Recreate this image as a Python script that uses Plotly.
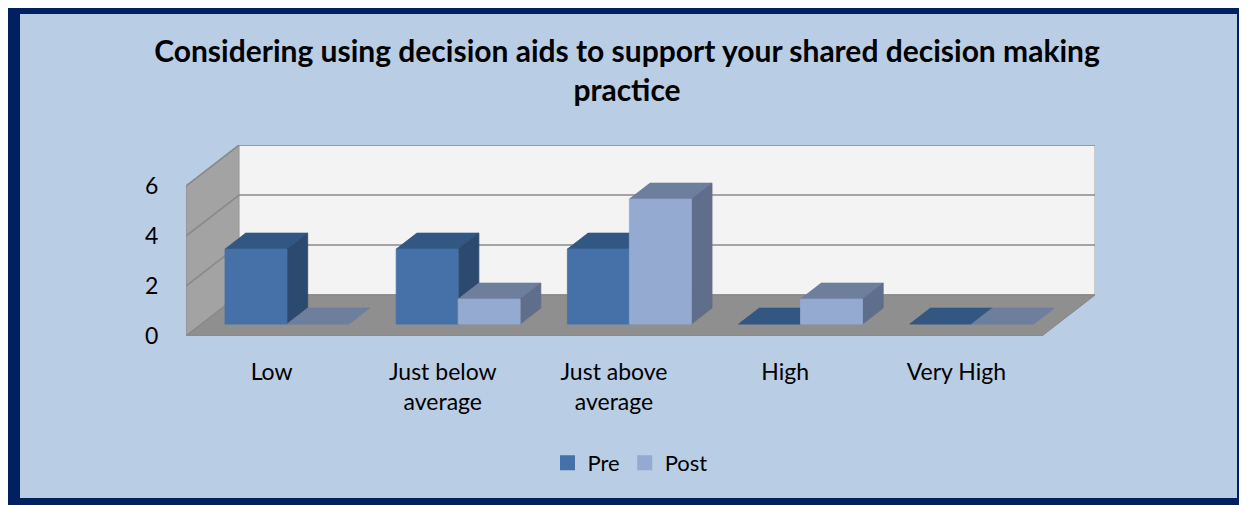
import plotly.graph_objects as go

categories = ["Low", "Just below average", "Just above average", "High", "Very High"]
tick_labels = ["Low", "Just below<br>average", "Just above<br>average", "High", "Very High"]
series_names = ["Pre", "Post"]
pre_values = [3, 3, 3, 0, 0]
post_values = [0, 1, 5, 1, 0]
y_ticks = [0, 2, 4, 6]

# colours: front, top, side
front_col = ["#4571A8", "#95AAD1"]
top_col = ["#335783", "#6E7F9D"]
side_col = ["#2C4A6F", "#5F6E8B"]

# 3D projection parameters (in data units)
DX, DY = 0.31, 1.64          # full depth offset of the floor / walls
F0, F1 = 0.29, 0.68          # depth fractions occupied by the bars
BW = 0.362                   # bar width
n = len(categories)
ymax = max(y_ticks)

# page offset (body margin) compensation
OX, OY = 8, 8
W, H = 1247 - OX, 505 - OY
L = 186 - OX
R = W - (1095 - OX)
T = 145 - OY
B = H - (336 - OY)
xr = [-0.5, n - 0.5 + DX]
yr = [0, ymax + DY]

fig = go.Figure()

def poly(xs, ys, fill, line, width=1):
    fig.add_trace(go.Scatter(x=xs, y=ys, fill="toself", fillcolor=fill, mode="lines",
                             line=dict(color=line, width=width), hoverinfo="skip",
                             showlegend=False))

# side wall
xl = -0.5
poly([xl, xl + DX, xl + DX, xl, xl], [0, DY, ymax + DY, ymax, 0], "#A3A3A3", "#8C8C8C")
# back wall
xbr = n - 0.5 + DX
poly([xl + DX, xbr, xbr, xl + DX, xl + DX], [DY, DY, ymax + DY, ymax + DY, DY], "#F3F3F3", "#A0A0A0")
# floor
poly([xl, n - 0.5, xbr, xl + DX, xl], [0, 0, DY, DY, 0], "#8F8F8F", "#858585")

# gridlines on side wall and back wall
gx, gy = [], []
for v in y_ticks:
    gx += [xl, xl + DX, xbr, None]
    gy += [v, v + DY, v + DY, None]
fig.add_trace(go.Scatter(x=gx, y=gy, mode="lines", line=dict(color="#8A8A8A", width=1.6),
                         hoverinfo="skip", showlegend=False))

# bars
ddx, ddy = (F1 - F0) * DX, (F1 - F0) * DY
yb = F0 * DY
for s, vals in enumerate([pre_values, post_values]):
    fx, fy, tx, ty, sx, sy = [], [], [], [], [], []
    for i, v in enumerate(vals):
        x0 = i - BW + s * BW + F0 * DX
        x1 = x0 + BW
        yt = yb + v
        tx += [x0, x1, x1 + ddx, x0 + ddx, x0, None]
        ty += [yt, yt, yt + ddy, yt + ddy, yt, None]
        if v > 0:
            fx += [x0, x1, x1, x0, x0, None]
            fy += [yb, yb, yt, yt, yb, None]
            sx += [x1, x1 + ddx, x1 + ddx, x1, x1, None]
            sy += [yb, yb + ddy, yt + ddy, yt, yb, None]
    poly(tx, ty, top_col[s], top_col[s], 0.8)
    poly(sx, sy, side_col[s], side_col[s], 0.8)
    poly(fx, fy, front_col[s], front_col[s], 0.8)

# legend entries
for s, name in enumerate(series_names):
    fig.add_trace(go.Scatter(x=[None], y=[None], mode="markers", name=name,
                             marker=dict(symbol="square", size=15, color=front_col[s])))

def px2paper_x(px):  # px in reference-image coordinates
    return (px - OX - L) / (W - L - R)

def px2paper_y(py):
    return (H - B - (py - OY)) / (H - T - B)

shapes = [
    dict(type="rect", xref="paper", yref="paper", layer="below",
         x0=px2paper_x(8), x1=px2paper_x(1260), y0=px2paper_y(520), y1=px2paper_y(4),
         fillcolor="#002060", line=dict(width=0)),
    dict(type="rect", xref="paper", yref="paper", layer="below",
         x0=px2paper_x(20), x1=px2paper_x(1237), y0=px2paper_y(498), y1=px2paper_y(14),
         fillcolor="#B9CDE5", line=dict(width=0)),
]

fig.update_layout(
    width=W, height=H,
    margin=dict(l=L, r=R, t=T, b=B),
    paper_bgcolor="white",
    plot_bgcolor="rgba(0,0,0,0)",
    font=dict(family="Lato", color="black", size=22),
    title=dict(text="<b>Considering using decision aids to support your shared decision making<br>practice</b>",
               x=(627 - OX) / W, xref="container", xanchor="center", y=1 - (62 - OY) / H,
               yref="container", yanchor="middle",
               font=dict(size=30, family="Lato", color="black")),
    shapes=shapes,
    showlegend=True,
    legend=dict(orientation="h", x=px2paper_x(630), xanchor="center", y=px2paper_y(463),
                yanchor="middle", bgcolor="rgba(0,0,0,0)", font=dict(size=22),
                itemwidth=30, tracegroupgap=0),
    xaxis=dict(range=xr, tickvals=list(range(n)), ticktext=tick_labels, showgrid=False,
               zeroline=False, showline=False, ticks="outside", ticklen=15,
               tickcolor="rgba(0,0,0,0)", tickfont=dict(size=23), fixedrange=True),
    yaxis=dict(range=yr, tickvals=y_ticks, showgrid=False, zeroline=False, showline=False,
               ticks="outside", ticklen=22, tickcolor="rgba(0,0,0,0)",
               tickfont=dict(size=23), fixedrange=True),
)

fig.write_html("out.html")
